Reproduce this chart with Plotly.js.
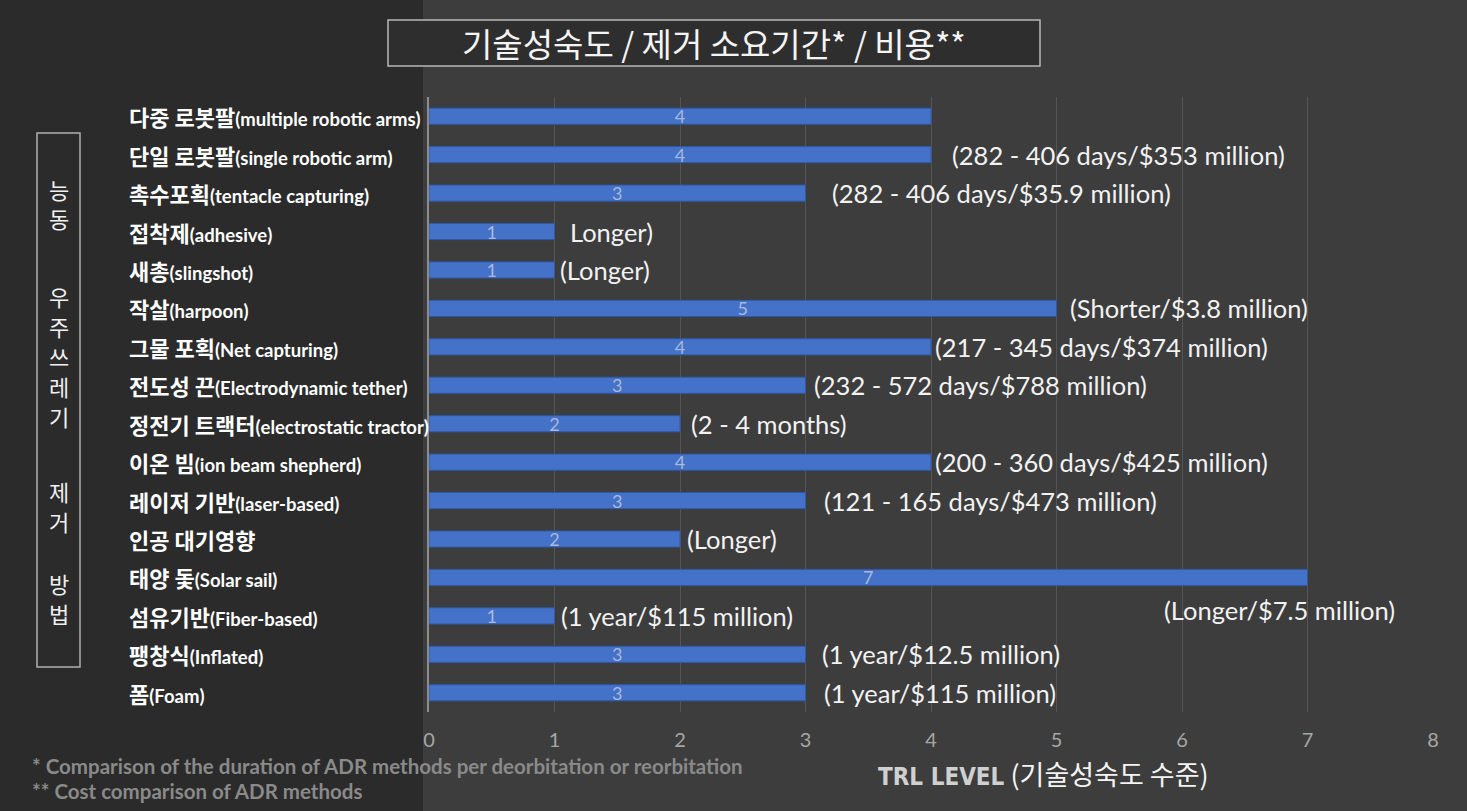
<!DOCTYPE html>
<html>
<head>
<meta charset="utf-8">
<script src="https://cdn.plot.ly/plotly-3.0.1.min.js"></script>
<style>
  html, body { margin:0; padding:0; background:#2b2b2b; }
  #chart { width:1467px; height:811px; }
</style>
</head>
<body>
<div id="chart"></div>
<script>
// ---- data ----
const namesKo = ["다중 로봇팔", "단일 로봇팔", "촉수포획", "접착제", "새총", "작살", "그물 포획", "전도성 끈",
  "정전기 트랙터", "이온 빔", "레이저 기반", "인공 대기영향", "태양 돛", "섬유기반", "팽창식", "폼"];
const namesEn = ["(multiple robotic arms)", "(single robotic arm)", "(tentacle capturing)", "(adhesive)", "(slingshot)",
  "(harpoon)", "(Net capturing)", "(Electrodynamic tether)", "(electrostatic tractor)", "(ion beam shepherd)",
  "(laser-based)", "", "(Solar sail)", "(Fiber-based)", "(Inflated)", "(Foam)"];
const trlLevel = [4, 4, 3, 1, 1, 5, 4, 3, 2, 4, 3, 2, 7, 1, 3, 3];
const notes = ["", "(282 - 406 days/$353 million)", "(282 - 406 days/$35.9 million)", "Longer)", "(Longer)",
  "(Shorter/$3.8 million)", "(217 - 345 days/$374 million)", "(232 - 572 days/$788 million)", "(2 - 4 months)",
  "(200 - 360 days/$425 million)", "(121 - 165 days/$473 million)", "(Longer)", "(Longer/$7.5 million)",
  "(1 year/$115 million)", "(1 year/$12.5 million)", "(1 year/$115 million)"];
const xTicks = [0, 1, 2, 3, 4, 5, 6, 7, 8];
const titleText = "기술성숙도 / 제거 소요기간* / 비용**";
const sideLabelGroups = ["능동", "우주쓰레기", "제거", "방법"];
const footnotes = ["* Comparison of the duration of ADR methods per deorbitation or reorbitation", "** Cost comparison of ADR methods"];

// ---- layout helpers (pixel placement of note labels) ----
const noteXShift = [0, 19, 24, 13, 3, 11, 2, 6, 9, 2, 16, 5, 0, 4, 14, 16];
const noteYShift = [0, 0, 0, 0, 0, 0, 0, 0, 0, 0, 0, 0, -33, 0, 0, 0];
const noteXOverride = {12: 5.84};

const cats = namesKo.map((k, i) => k + namesEn[i]);

const trace = {
  type: 'bar',
  orientation: 'h',
  x: trlLevel,
  y: cats,
  width: 0.42,
  marker: { color: '#4472c9', line: { color: '#2f58a8', width: 1 } },
  text: trlLevel.map(String),
  textposition: 'inside',
  insidetextanchor: 'middle',
  textangle: 0,
  constraintext: 'none',
  textfont: { family: 'Lato, Open Sans, sans-serif', size: 18, color: '#a9b8da' },
  hoverinfo: 'skip'
};

const PX = x => (x - 429) / 1004;
const PY = y => (712 - y) / 615;

const annotations = [];
cats.forEach((c, i) => {
  const en = namesEn[i] ? '<span style="font-size:18.5px;font-family:Lato">' + namesEn[i] + '</span>' : '';
  annotations.push({
    xref: 'paper', yref: 'y', x: PX(127), y: c, xanchor: 'left', yanchor: 'middle',
    text: '<b>' + namesKo[i] + en + '</b>', showarrow: false,
    font: { family: 'Noto Sans CJK KR', size: 22, color: '#ffffff' }
  });
  if (notes[i]) {
    annotations.push({
      xref: 'x', yref: 'y', x: (i in noteXOverride) ? noteXOverride[i] : trlLevel[i], y: c,
      xanchor: 'left', yanchor: 'middle', xshift: noteXShift[i], yshift: noteYShift[i],
      text: notes[i], showarrow: false,
      font: { family: 'Lato, Open Sans, sans-serif', size: 25.5, color: '#f2f2f2' }
    });
  }
});

annotations.push({
  xref: 'paper', yref: 'paper', x: PX(714), y: PY(43), xanchor: 'center', yanchor: 'middle',
  text: titleText, showarrow: false,
  font: { family: 'Noto Sans CJK KR', size: 33, color: '#f4f4f4' }
});

const groupCenters = [203.5, 356, 506, 597.5];
const sideSpacing = 30;
sideLabelGroups.forEach((g, i) => {
  const chars = g.split('');
  chars.forEach((ch, j) => {
    const yc = groupCenters[i] + (j - (chars.length - 1) / 2) * sideSpacing;
    annotations.push({
      xref: 'paper', yref: 'paper', x: PX(58.5), y: PY(yc), xanchor: 'center', yanchor: 'middle',
      text: ch, showarrow: false,
      font: { family: 'Noto Sans CJK KR', size: 22, color: '#f0f0f0' }
    });
  });
});

const footY = [766, 791];
footnotes.forEach((f, i) => {
  annotations.push({
    xref: 'paper', yref: 'paper', x: PX(30), y: PY(footY[i]), xanchor: 'left', yanchor: 'middle',
    text: '<b>' + f + '</b>', showarrow: false,
    font: { family: 'Lato, Open Sans, sans-serif', size: 20.5, color: '#8a8a8a' }
  });
});

annotations.push({
  xref: 'paper', yref: 'paper', x: PX(1043), y: PY(773), xanchor: 'center', yanchor: 'middle',
  text: '<span style="font-family:Liberation Sans Narrow, DejaVu Sans Condensed;font-weight:bold;font-size:24px;color:#d0d0d0">TRL LEVEL</span> (기술성숙도 수준)',
  showarrow: false,
  font: { family: 'Noto Sans CJK KR', size: 27, color: '#f4f4f4' }
});

const shapes = [
  { type: 'rect', xref: 'paper', yref: 'paper', x0: PX(423), x1: PX(1467), y0: PY(811), y1: PY(0),
    fillcolor: '#3d3d3d', line: { width: 0 }, layer: 'below' },
  { type: 'rect', xref: 'paper', yref: 'paper', x0: PX(388), x1: PX(1040), y0: PY(66), y1: PY(20),
    fillcolor: '#2e2e2e', line: { color: '#b8b8b8', width: 1.5 }, layer: 'below' },
  { type: 'rect', xref: 'paper', yref: 'paper', x0: PX(37), x1: PX(80), y0: PY(667), y1: PY(133),
    fillcolor: 'rgba(0,0,0,0)', line: { color: '#b0b0b0', width: 1.5 }, layer: 'above' }
];

const layout = {
  width: 1467, height: 811,
  margin: { l: 429, r: 34, t: 97, b: 99, pad: 0 },
  paper_bgcolor: '#2b2b2b',
  plot_bgcolor: 'rgba(0,0,0,0)',
  showlegend: false,
  xaxis: {
    range: [0, 8], tickvals: xTicks, ticktext: xTicks.map(String),
    showgrid: true, gridcolor: '#555555', gridwidth: 1,
    zeroline: false, showline: false, ticks: '',
    ticklabelstandoff: 14,
    tickfont: { family: 'Lato, Open Sans, sans-serif', size: 20, color: '#a6a6a6' },
    fixedrange: true
  },
  yaxis: {
    type: 'category', categoryorder: 'array', categoryarray: cats,
    range: [15.5, -0.5], showticklabels: false, showgrid: false,
    zeroline: false, showline: true, linecolor: '#8c8c8c', linewidth: 2, ticks: '',
    fixedrange: true
  },
  annotations: annotations,
  shapes: shapes
};

Plotly.newPlot('chart', [trace], layout, { displayModeBar: false, staticPlot: true });
</script>
</body>
</html>
